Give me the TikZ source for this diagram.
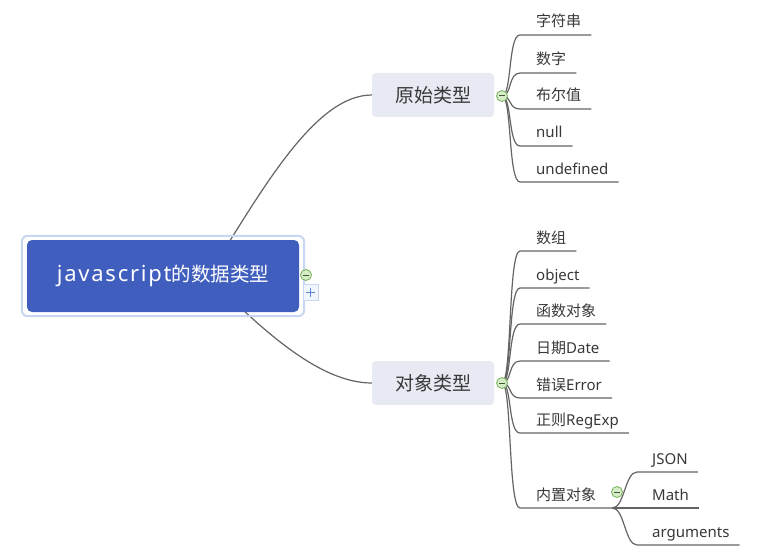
\documentclass[tikz,border=0pt]{standalone}
\usepackage{fontspec}
\setmainfont{Noto Sans}
\newfontfamily\cjkfont{Noto Sans CJK SC}
\newfontfamily\rootlatin{Noto Sans}[LetterSpace=8]
\usetikzlibrary{calc,backgrounds}
\definecolor{rootblue}{RGB}{64,94,190}
\definecolor{rootring}{RGB}{200,214,242}
\definecolor{topicfill}{RGB}{232,234,243}
\definecolor{linegray}{RGB}{100,100,100}
\definecolor{textgray}{RGB}{56,56,56}
\definecolor{knobfill}{RGB}{214,236,200}
\definecolor{knobline}{RGB}{118,178,88}
\definecolor{plusblue}{RGB}{90,130,210}
\newcommand{\zh}[1]{{\cjkfont #1}}
\tikzset{
  root/.style={fill=rootblue, text=white, rounded corners=5pt, minimum width=272pt, minimum height=72pt, inner sep=0pt},
  ring/.style={draw=rootring, line width=2pt, rounded corners=6pt},
  topic/.style={fill=topicfill, text=textgray, rounded corners=4pt, minimum width=122pt, minimum height=44pt, font=\cjkfont\fontsize{19}{22}\selectfont},
  leaf/.style={anchor=base west, inner sep=0pt, text=textgray, font=\fontsize{15}{18}\selectfont},
  branch/.style={draw=linegray, line width=1.2pt},
  knob/.style={circle, draw=knobline, fill=knobfill, minimum size=11pt, inner sep=0pt, line width=0.8pt,
    path picture={\draw[knobline!50!black, line width=1pt] ([xshift=-3pt]path picture bounding box.center) -- ([xshift=3pt]path picture bounding box.center);}},
  plusbox/.style={rectangle, draw=rootring, fill=rootring!25, minimum width=15pt, minimum height=16pt, inner sep=0pt, line width=0.8pt,
    path picture={\draw[plusblue, line width=1.6pt] ([xshift=-4.5pt]path picture bounding box.center) -- ([xshift=4.5pt]path picture bounding box.center) ([yshift=-4.5pt]path picture bounding box.center) -- ([yshift=4.5pt]path picture bounding box.center);}},
}
\begin{document}
\begin{tikzpicture}[x=1pt,y=-1pt]
\useasboundingbox (0,0) rectangle (767,556);
% centre topic
\node[root] (root) at (163,276) {{\rootlatin\fontsize{22}{24}\selectfont javascript}{\fontsize{19.5}{24}\selectfont\zh{的数据类型}}};
\draw[ring] ([shift={(-5,-4)}]root.north west) rectangle ([shift={(5,4)}]root.south east);
\node[knob] (rk) at (306,275) {};
\node[plusbox] (rp) at (310.5,292.5) {};
\coordinate (rs) at ($(root.center)+(45,0)$);
% main topics
\node[topic] (prim) at (433,95) {原始类型};
\node[topic] (obj) at (433,383) {对象类型};
\node[knob] (pk) at (502,96) {};
\node[knob] (ok) at (502,383) {};
% leaves
\node[leaf] (str) at (536,27) {\zh{字符串}};
\node[leaf] (num) at (536,65) {\zh{数字}};
\node[leaf] (bool) at (536,101) {\zh{布尔值}};
\node[leaf] (nul) at (536,138) {null};
\node[leaf] (undef) at (536,174) {undefined};
\node[leaf] (arr) at (536,243) {\zh{数组}};
\node[leaf] (objc) at (536,280) {object};
\node[leaf] (func) at (536,316) {\zh{函数对象}};
\node[leaf] (date) at (536,353) {\zh{日期}Date};
\node[leaf] (err) at (536,390) {\zh{错误}Error};
\node[leaf] (reg) at (536,425) {\zh{正则}RegExp};
\node[leaf] (inner) at (536,500) {\zh{内置对象}};
\node[knob] (bk) at (617,492) {};
\coordinate (bt) at ($(inner.base east)+(16,8)$);
\node[leaf] (json) at (652,464) {JSON};
\node[leaf] (math) at (652,500) {Math};
\node[leaf] (args) at (652,537) {arguments};
\begin{scope}[on background layer]
  \draw[branch] (rs) .. controls +(54,-86) and +(-57,0) .. (prim.west);
  \draw[branch] (rs) .. controls +(55,55) and +(-52,0) .. (obj.west);
  % primitive types
  \draw[branch] (pk.center) .. controls +(10,0) and +(-12,0) .. ($(str.base west)+(-16,8)$) -- ($(str.base east)+(10,8)$);
  \draw[branch] (pk.center) .. controls +(10,0) and +(-12,0) .. ($(num.base west)+(-16,8)$) -- ($(num.base east)+(10,8)$);
  \draw[branch] (pk.center) .. controls +(10,0) and +(-12,0) .. ($(bool.base west)+(-16,8)$) -- ($(bool.base east)+(10,8)$);
  \draw[branch] (pk.center) .. controls +(10,0) and +(-12,0) .. ($(nul.base west)+(-16,8)$) -- ($(nul.base east)+(10,8)$);
  \draw[branch] (pk.center) .. controls +(10,0) and +(-12,0) .. ($(undef.base west)+(-16,8)$) -- ($(undef.base east)+(10,8)$);
  % object types
  \draw[branch] (ok.center) .. controls +(10,0) and +(-12,0) .. ($(arr.base west)+(-16,8)$) -- ($(arr.base east)+(10,8)$);
  \draw[branch] (ok.center) .. controls +(10,0) and +(-12,0) .. ($(objc.base west)+(-16,8)$) -- ($(objc.base east)+(10,8)$);
  \draw[branch] (ok.center) .. controls +(10,0) and +(-12,0) .. ($(func.base west)+(-16,8)$) -- ($(func.base east)+(10,8)$);
  \draw[branch] (ok.center) .. controls +(10,0) and +(-12,0) .. ($(date.base west)+(-16,8)$) -- ($(date.base east)+(10,8)$);
  \draw[branch] (ok.center) .. controls +(10,0) and +(-12,0) .. ($(err.base west)+(-16,8)$) -- ($(err.base east)+(10,8)$);
  \draw[branch] (ok.center) .. controls +(10,0) and +(-12,0) .. ($(reg.base west)+(-16,8)$) -- ($(reg.base east)+(10,8)$);
  \draw[branch] (ok.center) .. controls +(10,0) and +(-12,0) .. ($(inner.base west)+(-16,8)$) -- (bt);
  % built-in objects
  \draw[branch] (bt) .. controls +(12,0) and +(-12,0) .. ($(json.base west)+(-15,8)$) -- ($(json.base east)+(10,8)$);
  \draw[branch] (bt) -- ($(math.base east)+(10,8)$);
  \draw[branch] (bt) .. controls +(12,0) and +(-12,0) .. ($(args.base west)+(-15,8)$) -- ($(args.base east)+(10,8)$);
\end{scope}
\end{tikzpicture}
\end{document}
